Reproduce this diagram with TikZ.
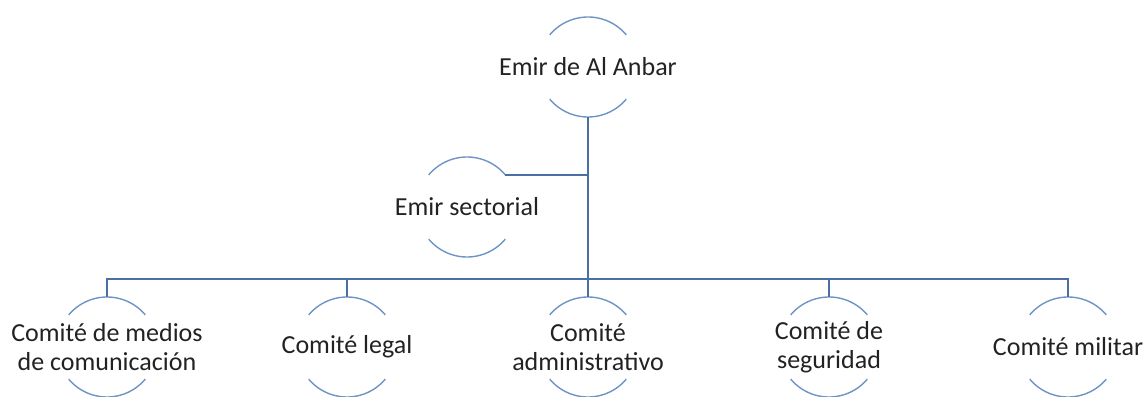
\documentclass[tikz,border=0pt]{standalone}
\usepackage{fontspec}
\setmainfont{Carlito}
\definecolor{conn}{HTML}{4A6FA5}
\definecolor{arcc}{HTML}{6E94C6}
\definecolor{txt}{HTML}{222222}
\begin{document}
\begin{tikzpicture}[x=1pt,y=-1pt,
  lbl/.style={font=\fontsize{26}{29}\selectfont, text=txt, align=center, inner sep=0pt},
  conline/.style={draw=conn, line width=1.8pt},
  arcline/.style={draw=arcc, line width=1.4pt}]
\useasboundingbox (0,0) rectangle (1147,396);
% nodes
\node[lbl] (emir) at (588,67) {Emir de Al Anbar};
\node[lbl] (sec) at (467,207) {Emir sectorial};
\node[lbl] (med) at (107,347) {Comité de medios\\de comunicación};
\node[lbl] (leg) at (347,347) {Comité legal};
\node[lbl] (adm) at (588,347) {Comité\\administrativo};
\node[lbl] (seg) at (829,347) {Comité de\\seguridad};
\node[lbl] (mil) at (1068,347) {Comité militar};
% arcs around each node
\foreach \n in {emir,sec,med,leg,adm,seg,mil}{
  \draw[arcline] ([shift={(50*cos 40,-50*sin 40)}]\n.center) arc[start angle=-40, end angle=-140, radius=50];
  \draw[arcline] ([shift={(-50*cos 40,50*sin 40)}]\n.center) arc[start angle=140, end angle=40, radius=50];
  \coordinate (\n-t) at ([yshift=50]\n.center);
  \coordinate (\n-b) at ([yshift=-50]\n.center);
}
\coordinate (sec-r) at ([shift={(50*cos 40,-50*sin 40)}]sec.center);
\coordinate (bar) at (588,279);
% connectors
\draw[conline] (emir-b) -- (emir-b |- bar);
\draw[conline] (emir-b |- sec-r) -- (sec-r);
\draw[conline] (med-t) |- (bar) -| (mil-t);
\draw[conline] (leg-t) -- (leg-t |- bar);
\draw[conline] (adm-t) -- (adm-t |- bar);
\draw[conline] (seg-t) -- (seg-t |- bar);
\end{tikzpicture}
\end{document}
